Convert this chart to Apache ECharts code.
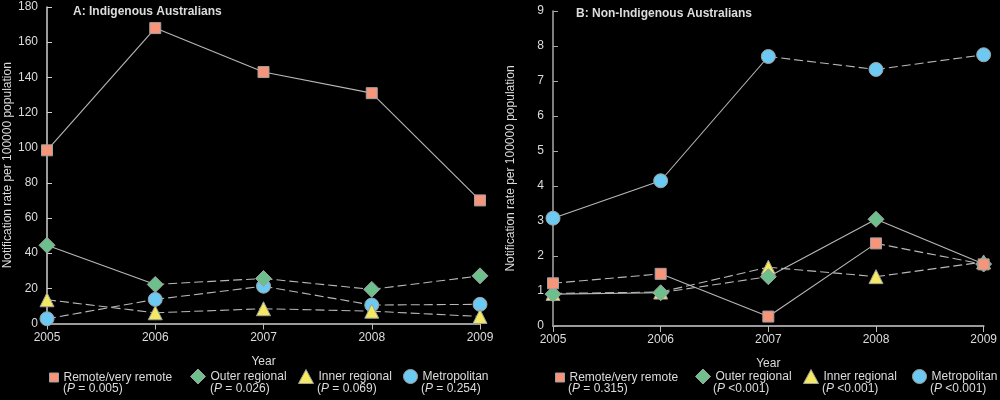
<!DOCTYPE html>
<html><head><meta charset="utf-8">
<script src="https://cdn.jsdelivr.net/npm/echarts@6/dist/echarts.min.js"></script>
<style>html,body{margin:0;padding:0;background:#000;}#c{width:1000px;height:400px;}</style>
</head><body><div id="c"></div>
<script>
const years = ['2005', '2006', '2007', '2008', '2009'];
const regions = ['Remote/very remote', 'Outer regional', 'Inner regional', 'Metropolitan'];
// Panel A: Indigenous Australians
const remoteA = [98.5, 168, 143, 131, 70];
const outerA = [44.5, 22.2, 25.6, 19.4, 27.1];
const innerA = [13.5, 6.1, 8.4, 7.0, 4.0];
const metroA = [2.7, 13.7, 21.2, 10.5, 10.9];
const pTextA = ['= 0.005', '= 0.026', '= 0.069', '= 0.254'];
// Panel B: Non-Indigenous Australians
const remoteB = [1.22, 1.49, 0.27, 2.36, 1.76];
const outerB = [0.91, 0.95, 1.41, 3.05, 1.77];
const innerB = [0.93, 0.97, 1.68, 1.41, 1.83];
const metroB = [3.08, 4.15, 7.70, 7.33, 7.75];
const pTextB = ['= 0.315', '<0.001', '<0.001', '<0.001'];
const yTicksA = {min: 0, max: 180, interval: 20};
const yTicksB = {min: 0, max: 9, interval: 1};

// segment line styles (s = solid, d = dashed)
const segA = [['s','s','s','s'], ['s','d','d','d'], ['d','d','d','d'], ['d','d','d','d']];
const segB = [['d','s','s','d'], ['s','d','s','s'], ['d','d','d','d'], ['s','s','d','d']];

const FONT = 'Liberation Sans, Arial, sans-serif';
const TXT = '#dcdcdc';
const symbols = ['rect', 'diamond', 'triangle', 'circle'];
const colors = ['#f7957b', '#6dbf8c', '#f5e961', '#6cc9f2'];
const symSize = [11, 16, 14, 14];
const legendSize = [[9, 9], [15, 15], [15, 14], [14, 14]];
const drawOrder = [3, 2, 1, 0];

function buildSeries(panel, data, segs) {
  const out = [];
  drawOrder.forEach(function (r, k) {
    const vals = data[r];
    for (let i = 0; i < vals.length - 1; i++) {
      const d = vals.map(function (v, j) { return (j === i || j === i + 1) ? v : null; });
      out.push({
        type: 'line', xAxisIndex: panel, yAxisIndex: panel, data: d,
        symbol: 'none', silent: true, z: 2 + k,
        lineStyle: {color: '#b8b8b8', width: 1.1, type: segs[r][i] === 's' ? 'solid' : [9, 4]}
      });
    }
    out.push({
      name: regions[r], type: 'line', xAxisIndex: panel, yAxisIndex: panel, data: vals,
      symbol: symbols[r], symbolSize: symSize[r], z: 10 + k,
      lineStyle: {width: 0, opacity: 0},
      itemStyle: {color: colors[r], borderColor: '#a0a0a0', borderWidth: 1},
      emphasis: {disabled: true}
    });
  });
  return out;
}

const series = buildSeries(0, [remoteA, outerA, innerA, metroA], segA)
  .concat(buildSeries(1, [remoteB, outerB, innerB, metroB], segB));

const legendXA = [49, 190, 298, 403];
const legendXB = [555, 695, 803, 912];
const pXA = [63, 210, 317, 421];
const pXB = [568, 713, 822, 930];
const legends = [];
const graphics = [];
[legendXA, legendXB].forEach(function (xs, p) {
  regions.forEach(function (name, r) {
    legends.push({
      data: [{name: name, icon: symbols[r]}],
      left: xs[r], top: 376 - legendSize[r][1] / 2, itemWidth: legendSize[r][0], itemHeight: legendSize[r][1],
      itemGap: 0, padding: 0, selectedMode: false,
      textStyle: {color: TXT, fontSize: 12, fontFamily: FONT},
      itemStyle: {color: colors[r], borderColor: '#a0a0a0', borderWidth: 1}
    });
    const txt = p === 0 ? pTextA[r] : pTextB[r];
    graphics.push({
      type: 'text', left: (p === 0 ? pXA : pXB)[r], top: 383,
      style: {text: '({i|P} ' + txt + ')', fill: TXT, font: '12px ' + FONT,
        rich: {i: {fontStyle: 'italic', fill: TXT, fontSize: 12, fontFamily: FONT}}}
    });
  });
});

function yAxis(idx, ticks, lineColor, gap) {
  return {
    type: 'value', gridIndex: idx, min: ticks.min, max: ticks.max, interval: ticks.interval,
    name: 'Notification rate per 100000 population', nameLocation: 'middle', nameGap: gap,
    nameTextStyle: {color: TXT, fontSize: 12, fontFamily: FONT},
    axisLine: {show: true, lineStyle: {color: lineColor, width: 1.5}},
    axisTick: {show: true, inside: true, length: 5, lineStyle: {color: lineColor}},
    axisLabel: {color: TXT, fontSize: 12, fontFamily: FONT, margin: 9},
    splitLine: {show: false}
  };
}
function xAxis(idx) {
  return {
    type: 'category', gridIndex: idx, data: years, boundaryGap: false,
    name: 'Year', nameLocation: 'middle', nameGap: 32,
    nameTextStyle: {color: TXT, fontSize: 12, fontFamily: FONT},
    axisLine: {show: true, lineStyle: {color: '#9a9a9a', width: 2}},
    axisTick: {show: true, length: 6, alignWithLabel: true, lineStyle: {color: '#bbb'}},
    axisLabel: {color: TXT, fontSize: 12, fontFamily: FONT, margin: 8, showMaxLabel: true, showMinLabel: true}
  };
}

const option = {
  backgroundColor: '#000',
  animation: false,
  title: [
    {text: 'A: Indigenous Australians', left: 68, top: 1,
      textStyle: {color: TXT, fontSize: 12, fontWeight: 'bold', fontFamily: FONT}},
    {text: 'B: Non-Indigenous Australians', left: 571, top: 3,
      textStyle: {color: TXT, fontSize: 12, fontWeight: 'bold', fontFamily: FONT}}
  ],
  grid: [
    {left: 47, width: 433, top: 7, height: 316.5, containLabel: false},
    {left: 553, width: 432, top: 11, height: 315, containLabel: false}
  ],
  xAxis: [xAxis(0), xAxis(1)],
  yAxis: [yAxis(0, yTicksA, '#d0d0d0', 33), yAxis(1, yTicksB, '#a8a8a8', 36)],
  legend: legends,
  graphic: graphics,
  series: series
};
const chart = echarts.init(document.getElementById('c'));
chart.setOption(option);
</script></body></html>
